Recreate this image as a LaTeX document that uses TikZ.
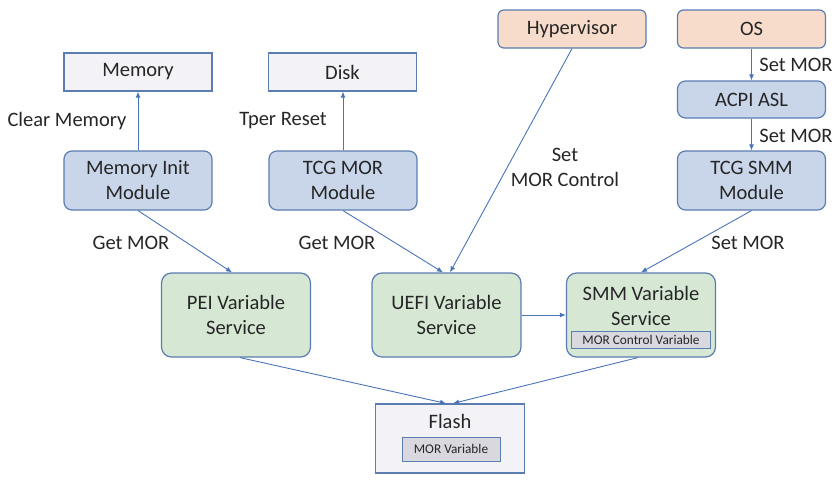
\documentclass[tikz,border=0pt]{standalone}
\usepackage{fontspec}
\setmainfont{Carlito}
\usetikzlibrary{positioning,shapes,arrows.meta}

\definecolor{edgeblue}{HTML}{5B7DB0}
\definecolor{arrowblue}{HTML}{4A73B8}
\definecolor{modfill}{HTML}{C9D6EA}
\definecolor{varfill}{HTML}{D6E7D4}
\definecolor{hostfill}{HTML}{F8DCCB}
\definecolor{hwfill}{HTML}{F3F3F7}
\definecolor{innerfill}{HTML}{D8D8DE}
\definecolor{txt}{HTML}{262626}

\tikzset{
    box/.style={draw=edgeblue, line width=1.2pt, inner sep=0pt, align=center, text=txt},
    hwbox/.style={box, fill=hwfill, minimum width=148pt},
    modbox/.style={box, fill=modfill, rounded corners=8pt, minimum width=148pt, minimum height=59pt},
    hostbox/.style={box, fill=hostfill, rounded corners=6pt, minimum width=148pt, minimum height=38pt},
    varbox/.style={box, fill=varfill, rounded corners=10pt, minimum width=149pt, minimum height=84pt},
    innerbox/.style={box, fill=innerfill, line width=1pt, font=\fontsize{13.3}{15}\selectfont},
    lbl/.style={text=txt, align=center},
    flow/.style={draw=arrowblue, line width=0.9pt, -{Latex[length=6pt,width=5pt]}}
}

\begin{document}
\begin{tikzpicture}[x=1pt, y=-1pt, font=\fontsize{20.5}{25}\selectfont]
        \useasboundingbox (0,0) rectangle (838,482);

        % Hardware
        \node[hwbox, minimum height=38pt] (mem) at (138,72) {Memory};
        \node[hwbox, minimum height=38pt] (disk) at (342.5,72) {Disk};

        % Host software
        \node[hostbox] (hyper) at (572,29) {Hypervisor};
        \node[hostbox] (os) at (751.5,29) {OS};
        \node[modbox, minimum height=37pt] (acpi) at (751.5,99.5) {ACPI ASL};

        % Modules
        \node[modbox] (meminit) at (138,180.5) {Memory Init\\Module};
        \node[modbox] (tcgmor) at (343,180.5) {TCG MOR\\Module};
        \node[modbox] (tcgsmm) at (751.5,180.5) {TCG SMM\\Module};

        % Variable services
        \node[varbox] (pei) at (236,315) {PEI Variable\\Service};
        \node[varbox] (uefi) at (446.5,315) {UEFI Variable\\Service};
        \node[varbox] (smm) at (641,315) {};
        \node[lbl] (smmtext) at (641,306) {SMM Variable\\Service};
        \node[innerbox, minimum width=139pt, minimum height=17pt] (morctl) at (641,340) {MOR Control Variable};

        % Flash
        \node[hwbox, minimum width=149pt, minimum height=69pt] (flash) at (450,438.5) {};
        \node[lbl] (flashtext) at (450,421) {Flash};
        \node[innerbox, minimum width=98pt, minimum height=24pt] (morvar) at (451,449) {MOR Variable};

        % Connectors
        \draw[flow] (meminit) -- (mem);
        \draw[flow] (tcgmor.north) -- (tcgmor.north |- disk.south);
        \draw[flow] (os) -- (acpi);
        \draw[flow] (acpi) -- (tcgsmm);
        \draw[flow] (meminit.south) -- ([xshift=-4pt]pei.north);
        \draw[flow] (tcgmor.south) -- ([xshift=-3.5pt]uefi.north);
        \draw[flow] (hyper.south) -- ([xshift=3.5pt]uefi.north);
        \draw[flow] (tcgsmm.south) -- (smm.north);
        \draw[flow] (uefi.east) -- (smm.west);
        \draw[flow] ([xshift=4pt]pei.south) -- ([xshift=-4pt]flash.north);
        \draw[flow] ([xshift=-3pt]smm.south) -- ([xshift=3pt]flash.north);

        % Labels
        \node[lbl] (lclear) at (67,121) {Clear Memory};
        \node[lbl] (ltper) at (283,121) {Tper Reset};
        \node[lbl] (lget1) at (131,243) {Get MOR};
        \node[lbl] (lget2) at (337,243) {Get MOR};
        \node[lbl] (lctl) at (565,167) {Set\\MOR Control};
        \node[lbl] (lset1) at (796,65) {Set MOR};
        \node[lbl] (lset2) at (796,136) {Set MOR};
        \node[lbl] (lset3) at (748,243) {Set MOR};
    \end{tikzpicture}
\end{document}
